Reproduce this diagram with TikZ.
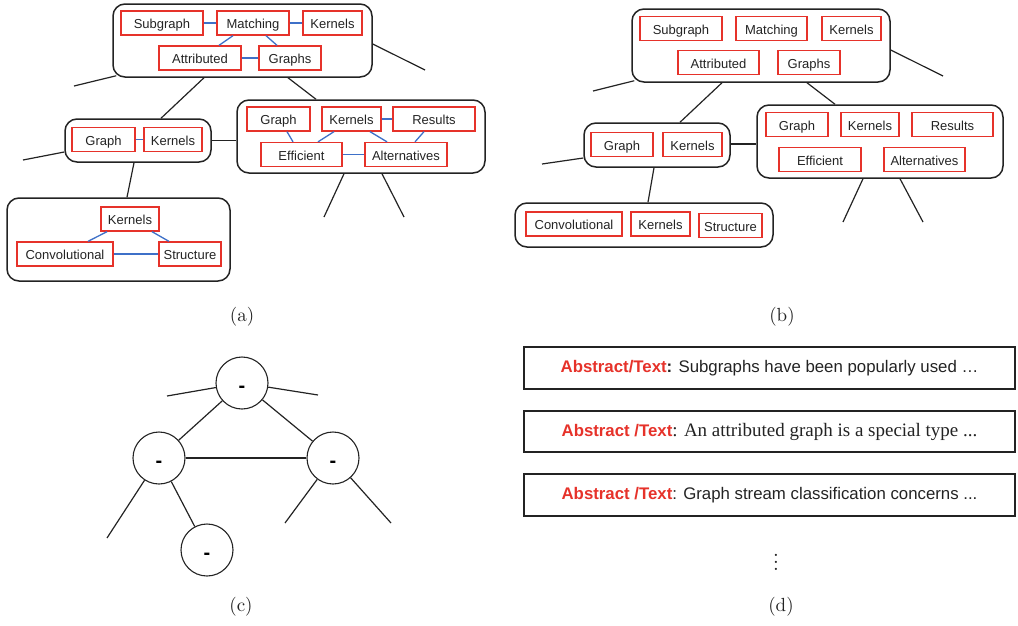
\documentclass[tikz,border=0pt]{standalone}
\usepackage{fontspec}
\newfontfamily\hv{Liberation Sans}
\newfontfamily\tms{Liberation Serif}
\newfontfamily\capfont{lmroman10-regular}[Extension=.otf]
\definecolor{kwred}{RGB}{230,50,42}
\definecolor{relblue}{RGB}{62,112,200}
\definecolor{ink}{RGB}{35,35,35}
\begin{document}
\begin{tikzpicture}[x=1pt,y=-1pt,
  grp/.style={draw=ink, line width=1.5pt, rounded corners=12pt, inner sep=0pt},
  kw/.style={draw=kwred, line width=1.3pt, inner sep=0pt, minimum height=24pt,
             font=\hv\fontsize{13}{15}\selectfont, text=ink, text height=11pt, text depth=0pt},
  rel/.style={draw=relblue, line width=1.3pt},
  edge/.style={draw=ink, line width=1.2pt},
  vtx/.style={circle, draw=ink, line width=1.1pt, minimum size=52pt, inner sep=0pt,
              font=\hv\bfseries\fontsize{20}{20}\selectfont, text height=19pt, text depth=0pt},
  abox/.style={draw=ink, line width=1.2pt, minimum width=491pt, inner sep=0pt,
               font=\hv\fontsize{16.8}{20}\selectfont, text=ink},
  subcap/.style={font=\capfont\fontsize{19}{22}\selectfont, text=ink}]
\useasboundingbox (0,0) rectangle (1018,625);

% ---------------- (a) keyword groups with relations ----------------
\node[grp, minimum width=259pt, minimum height=73pt] (ta) at (242.5,40.5) {};
\node[kw, minimum width=82pt] (asub) at (162,23) {Subgraph};
\node[kw, minimum width=72pt] (amat) at (253,23) {Matching};
\node[kw, minimum width=59pt] (aker) at (332.5,23) {Kernels};
\node[kw, minimum width=82pt] (aatt) at (200,58) {Attributed};
\node[kw, minimum width=62pt] (agra) at (290,58) {Graphs};
\draw[rel] (asub) -- (amat);
\draw[rel] (amat) -- (aker);
\draw[rel] (aatt) -- (agra);
\draw[rel] ([xshift=-20pt]amat.south) -- ([xshift=19pt]aatt.north);
\draw[rel] ([xshift=13pt]amat.south) -- ([xshift=-13pt]agra.north);

\node[grp, minimum width=146pt, minimum height=43pt] (gk) at (138,140.5) {};
\node[kw, minimum width=63pt] (ag2) at (103.5,139.5) {Graph};
\node[kw, minimum width=58pt] (ak2) at (173,139.5) {Kernels};
\draw[rel] (ag2) -- (ak2);

\node[grp, minimum width=223pt, minimum height=83pt] (ba) at (118.5,239.5) {};
\node[kw, minimum width=58pt] (ak3) at (130,219) {Kernels};
\node[kw, minimum width=96pt] (acon) at (65,254) {Convolutional};
\node[kw, minimum width=62pt] (astr) at (190,254) {Structure};
\draw[rel] (acon) -- (astr);
\draw[rel] ([xshift=-23pt]ak3.south) -- ([xshift=23pt]acon.north);
\draw[rel] ([xshift=22pt]ak3.south) -- ([xshift=-21pt]astr.north);

\node[grp, minimum width=248pt, minimum height=73pt] (rb) at (361,136.5) {};
\node[kw, minimum width=63pt] (ag4) at (278.5,119) {Graph};
\node[kw, minimum width=59pt] (ak4) at (351.5,119) {Kernels};
\node[kw, minimum width=82pt] (ares) at (434,119) {Results};
\node[kw, minimum width=81pt] (aeff) at (301.5,154.5) {Efficient};
\node[kw, minimum width=82pt] (aalt) at (406,154.5) {Alternatives};
\draw[rel] (ak4) -- (ares);
\draw[rel] (aeff) -- (aalt);
\draw[rel] ([xshift=8.5pt]ag4.south) -- ([xshift=-8.5pt]aeff.north);
\draw[rel] ([xshift=-17.5pt]ak4.south) -- ([xshift=16.5pt]aeff.north);
\draw[rel] ([xshift=18.5pt]ak4.south) -- ([xshift=-19pt]aalt.north);
\draw[rel] ([xshift=-10pt]ares.south) -- ([xshift=9pt]aalt.north);

% tree edges of (a)
\draw[edge] ([xshift=-38.5pt]ta.south) -- ([xshift=23pt]gk.north);
\draw[edge] ([xshift=45.5pt]ta.south) -- ([xshift=-45pt]rb.north);
\draw[edge] (gk.east) -- (gk.east -| rb.west);
\draw[edge] ([xshift=-4pt]gk.south) -- ([xshift=8.5pt]ba.north);
\coordinate (ae1) at (74,86);
\coordinate (ae2) at (425,70);
\coordinate (ae3) at (23,160);
\coordinate (ae4) at (324,217);
\coordinate (ae5) at (404,217);
\draw[edge] ([xshift=4pt,yshift=2pt]ta.south west) -- (ae1);
\draw[edge] ([yshift=-3.5pt]ta.east) -- (ae2);
\draw[edge] ([yshift=-11.5pt]gk.west) -- (ae3);
\draw[edge] ([xshift=-17pt]rb.south) -- (ae4);
\draw[edge] ([xshift=21pt]rb.south) -- (ae5);

% ---------------- (b) keyword groups without relations ----------------
\node[grp, minimum width=258pt, minimum height=73pt] (tb) at (761,45.5) {};
\node[kw, minimum width=82pt] (bsub) at (681,28.5) {Subgraph};
\node[kw, minimum width=71pt] (bmat) at (771.5,28.5) {Matching};
\node[kw, minimum width=59pt] (bker) at (851.5,28.5) {Kernels};
\node[kw, minimum width=81pt] (batt) at (718.5,62.5) {Attributed};
\node[kw, minimum width=62pt] (bgra) at (809,62.5) {Graphs};

\node[grp, minimum width=146pt, minimum height=44pt] (gkb) at (657,145) {};
\node[kw, minimum width=62pt] (bg2) at (622,144.5) {Graph};
\node[kw, minimum width=59pt] (bk2) at (692.5,144.5) {Kernels};

\node[grp, minimum width=258pt, minimum height=44pt] (bb) at (644,225) {};
\node[kw, minimum width=96pt] (bcon) at (574,224) {Convolutional};
\node[kw, minimum width=59pt] (bk3) at (660.5,224) {Kernels};
\node[kw, minimum width=63pt] (bstr) at (730.5,225.5) {Structure};

\node[grp, minimum width=246pt, minimum height=73pt] (rbb) at (880,141.5) {};
\node[kw, minimum width=62pt] (bg4) at (797,124.5) {Graph};
\node[kw, minimum width=58pt] (bk4) at (870,124.5) {Kernels};
\node[kw, minimum width=81pt] (bres) at (952.5,124.5) {Results};
\node[kw, minimum width=82pt] (beff) at (820,159.5) {Efficient};
\node[kw, minimum width=81pt] (balt) at (924.5,159.5) {Alternatives};

% tree edges of (b)
\draw[edge] ([xshift=-39pt]tb.south) -- ([xshift=23pt]gkb.north);
\draw[edge] ([xshift=46pt]tb.south) -- ([xshift=-45pt]rbb.north);
\draw[edge] ([yshift=1pt]gkb.east) -- ([yshift=1pt]gkb.east -| rbb.west);
\draw[edge] ([xshift=-3pt]gkb.south) -- ([xshift=4pt]bb.north);
\coordinate (be1) at (593,91);
\coordinate (be2) at (943,76);
\coordinate (be3) at (542,164);
\coordinate (be4) at (843,222);
\coordinate (be5) at (923,222);
\draw[edge] ([xshift=3pt,yshift=2pt]tb.south west) -- (be1);
\draw[edge] ([yshift=-4.5pt]tb.east) -- (be2);
\draw[edge] ([yshift=-13pt]gkb.west) -- (be3);
\draw[edge] ([xshift=-17pt]rbb.south) -- (be4);
\draw[edge] ([xshift=20pt]rbb.south) -- (be5);

% ---------------- (c) plain tree ----------------
\node[vtx] (c1) at (242,383) {-};
\node[vtx] (c2) at (159,458) {-};
\node[vtx] (c3) at (333,458) {-};
\node[vtx] (c4) at (207,550) {-};
\draw[edge] (c1) -- (c2);
\draw[edge] (c1) -- (c3);
\draw[edge] (c2) -- (c3);
\draw[edge] (c2) -- (c4);
\coordinate (ce1) at (167,396);
\coordinate (ce2) at (318,395);
\coordinate (ce3) at (107,538);
\coordinate (ce4) at (285,523);
\coordinate (ce5) at (391,523);
\draw[edge] (c1) -- (ce1);
\draw[edge] (c1) -- (ce2);
\draw[edge] (c2) -- (ce3);
\draw[edge] (c3) -- (ce4);
\draw[edge] (c3) -- (ce5);

% ---------------- (d) abstracts ----------------
\node[abox, minimum height=42pt] (d1) at (769.5,368) {{\color{kwred}\bfseries Abstract/Text}\textbf{:} Subgraphs have been popularly used …};
\node[abox, minimum height=41pt] (d2) at (769.5,431.5) {{\color{kwred}\bfseries Abstract /Text}{\tms\fontsize{19}{22}\selectfont: An attributed graph is a special type ...}};
\node[abox, minimum height=42pt] (d3) at (769.5,495) {{\color{kwred}\bfseries Abstract /Text}: Graph stream classification concerns ...};
\node[font=\fontsize{15}{16}\selectfont, text=ink] (dmore) at (776,557) {\scalebox{1.8}{$\vdots$}};

% ---------------- sub-figure captions ----------------
\node[subcap] (capa) at (242,317) {(a)};
\node[subcap] (capb) at (782,317) {(b)};
\node[subcap] (capc) at (241,607) {(c)};
\node[subcap] (capd) at (781,607) {(d)};
\end{tikzpicture}
\end{document}
